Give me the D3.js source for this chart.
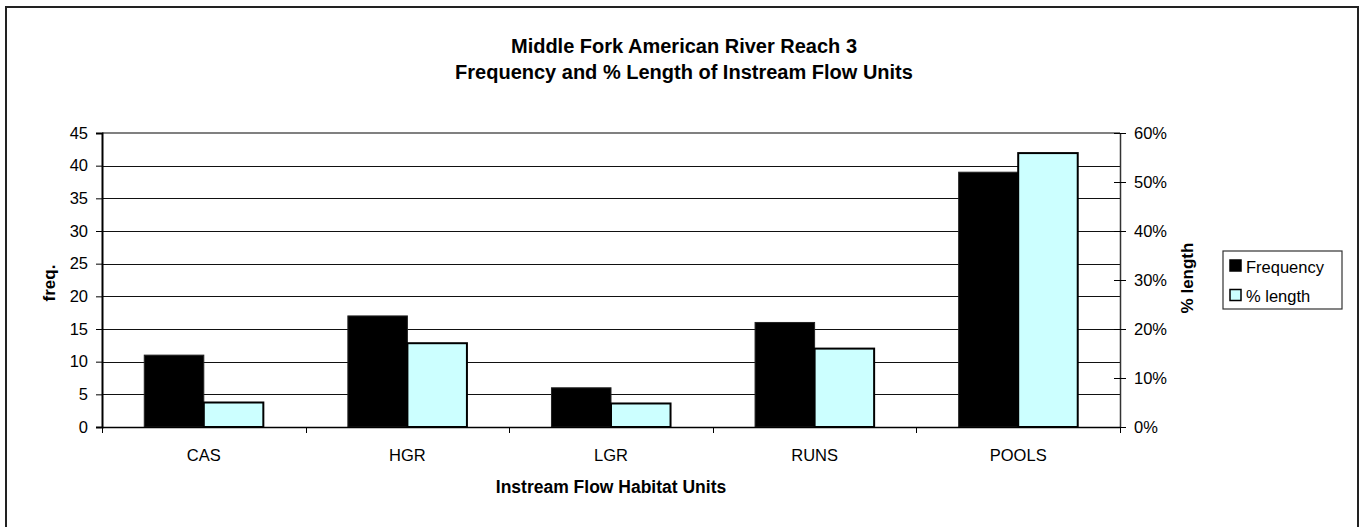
<!DOCTYPE html>
<html><head><meta charset="utf-8">
<script src="https://cdn.jsdelivr.net/npm/d3@7"></script>
<style>
html,body{margin:0;padding:0;background:#fff;}
svg{display:block;font-family:"Liberation Sans",Arial,sans-serif;}
</style></head>
<body><svg id="c" width="1362" height="527"></svg>
<script>
const categories = ["CAS","HGR","LGR","RUNS","POOLS"];
const frequency = [11,17,6,16,39];
const pctLength = [0.05,0.171,0.048,0.16,0.559];
const freqTicks = [0,5,10,15,20,25,30,35,40,45];
const pctTicks = [0,0.1,0.2,0.3,0.4,0.5,0.6];
const seriesNames = ["Frequency","% length"];
const seriesColors = ["#000000","#CCFFFF"];
const titleLines = ["Middle Fork American River Reach 3","Frequency and % Length of Instream Flow Units"];

const svg = d3.select("#c");
const L=102, R=1120, T=133, B=427;

// outer border
svg.append("rect").attr("x",6).attr("y",7).attr("width",1352).attr("height",530)
  .attr("fill","#fff").attr("stroke","#222").attr("stroke-width",2);

const x = d3.scaleBand().domain(categories).range([L,R]).paddingInner(0).paddingOuter(0);
const xs = d3.scaleBand().domain(seriesNames).range([0,x.bandwidth()]).paddingInner(0).paddingOuter(0.71);
const yL = d3.scaleLinear().domain([0,45]).range([B,T]);
const yR = d3.scaleLinear().domain([0,0.6]).range([B,T]);

// gridlines
svg.append("g").selectAll("line").data(freqTicks.filter(d=>d>0 && d<45)).join("line")
  .attr("x1",L).attr("x2",R).attr("y1",d=>Math.round(yL(d))+0.5).attr("y2",d=>Math.round(yL(d))+0.5)
  .attr("stroke","#111").attr("stroke-width",1);
// top plot border
svg.append("line").attr("x1",L).attr("x2",R).attr("y1",T).attr("y2",T).attr("stroke","#808080").attr("stroke-width",2);

// bars
const data = categories.map((c,i)=>({c, f:frequency[i], p:pctLength[i]}));
const g = svg.append("g");
g.selectAll("rect.f").data(data).join("rect").attr("class","f")
  .attr("x",d=>x(d.c)+xs("Frequency")).attr("width",xs.bandwidth())
  .attr("y",d=>yL(d.f)).attr("height",d=>B-yL(d.f))
  .attr("fill",seriesColors[0]).attr("stroke","#222").attr("stroke-width",1);
g.selectAll("rect.p").data(data).join("rect").attr("class","p")
  .attr("x",d=>x(d.c)+xs("% length")).attr("width",xs.bandwidth())
  .attr("y",d=>yR(d.p)).attr("height",d=>B-yR(d.p))
  .attr("fill",seriesColors[1]).attr("stroke","#000").attr("stroke-width",2);

// left axis
const axL = svg.append("g").attr("transform",`translate(${L},0)`)
  .call(d3.axisLeft(yL).tickValues(freqTicks).tickSize(6).tickPadding(8));
axL.select(".domain").attr("stroke","#000").attr("stroke-width",2);
axL.selectAll(".tick line").attr("stroke","#000");
axL.selectAll("text").attr("font-size","16.5px").attr("fill","#000").attr("font-family","Liberation Sans, Arial, sans-serif");

// right axis
const axR = svg.append("g").attr("transform",`translate(${R},0)`)
  .call(d3.axisRight(yR).tickValues(pctTicks).tickFormat(d3.format(".0%")).tickSizeInner(6).tickSizeOuter(0).tickPadding(8));
axR.select(".domain").attr("stroke","#333").attr("stroke-width",1.5);
axR.selectAll(".tick line").attr("stroke","#000").attr("x1",-6);
axR.selectAll("text").attr("font-size","16.5px").attr("fill","#000").attr("font-family","Liberation Sans, Arial, sans-serif");

// bottom axis
const axB = svg.append("g").attr("transform",`translate(0,${B})`)
  .call(d3.axisBottom(x).tickSize(0).tickPadding(22));
axB.select(".domain").attr("stroke","#000").attr("stroke-width",1.5);
axB.selectAll("text").attr("font-size","16.5px").attr("fill","#000").attr("font-family","Liberation Sans, Arial, sans-serif");
svg.append("g").selectAll("line").data(d3.range(categories.length+1)).join("line")
  .attr("x1",i=>Math.round(L+i*x.step())+0.5).attr("x2",i=>Math.round(L+i*x.step())+0.5)
  .attr("y1",B).attr("y2",B+6).attr("stroke","#000");

// titles
svg.append("text").attr("x",684).attr("y",53).attr("text-anchor","middle")
  .attr("font-size","20px").attr("font-weight","bold").text(titleLines[0]);
svg.append("text").attr("x",684).attr("y",79).attr("text-anchor","middle")
  .attr("font-size","20px").attr("font-weight","bold").text(titleLines[1]);
svg.append("text").attr("x",(L+R)/2).attr("y",493).attr("text-anchor","middle")
  .attr("font-size","17.5px").attr("font-weight","bold").text("Instream Flow Habitat Units");
svg.append("text").attr("transform","translate(55,283) rotate(-90)").attr("text-anchor","middle")
  .attr("font-size","17px").attr("font-weight","bold").text("freq.");
svg.append("text").attr("transform","translate(1193,278) rotate(-90)").attr("text-anchor","middle")
  .attr("font-size","17px").attr("font-weight","bold").text("% length");

// legend
const lg = svg.append("g");
lg.append("rect").attr("x",1223).attr("y",251).attr("width",119).attr("height",58)
  .attr("fill","#fff").attr("stroke","#333").attr("stroke-width",1.2);
seriesNames.forEach((s,i)=>{
  lg.append("rect").attr("x",1230).attr("y",260+i*29.5).attr("width",11).attr("height",11)
    .attr("fill",seriesColors[i]).attr("stroke","#000").attr("stroke-width",1.5);
  lg.append("text").attr("x",1246).attr("y",273+i*29).attr("font-size","16.5px").text(s);
});
</script></body></html>
